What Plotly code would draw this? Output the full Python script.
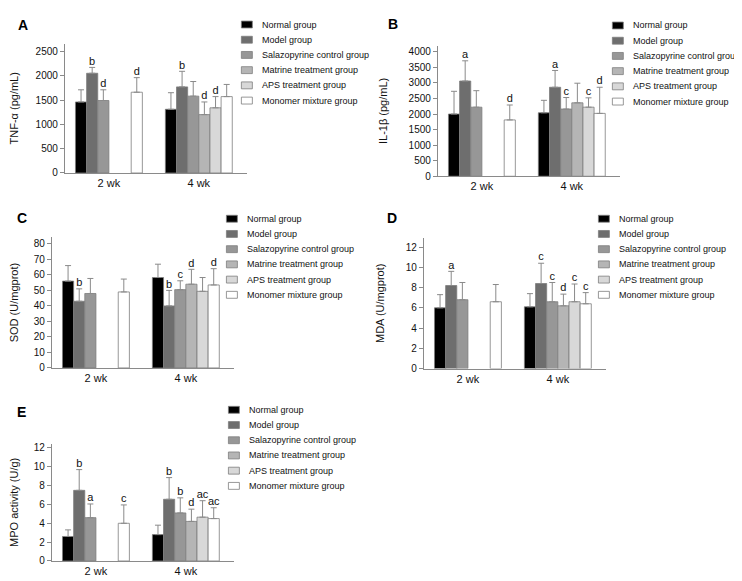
import plotly.graph_objects as go

W, H = 742, 581

categories = ["2 wk", "4 wk"]
groups = ["Normal group", "Model group", "Salazopyrine control group",
          "Matrine treatment group", "APS treatment group", "Monomer mixture group"]
group_colors = ["#000000", "#6e6e6e", "#979797", "#b5b5b5", "#d8d8d8", "#ffffff"]

# Panel A: TNF-alpha (pg/mL)  rows = groups, cols = [2 wk, 4 wk]
tnf_mean = [[1460, 1310], [2050, 1770], [1490, 1580], [None, 1200], [None, 1340], [1660, 1570]]
tnf_sd = [[250, 340], [120, 320], [220, 300], [None, 260], [None, 230], [300, 250]]
tnf_sig = [["", ""], ["b", "b"], ["d", ""], ["", "d"], ["", "d"], ["d", ""]]

# Panel B: IL-1beta (pg/mL)
il1_mean = [[2000, 2040], [3060, 2860], [2220, 2160], [None, 2360], [None, 2220], [1810, 2020]]
il1_sd = [[730, 400], [650, 540], [530, 370], [None, 630], [None, 300], [480, 840]]
il1_sig = [["", ""], ["a", "a"], ["", "c"], ["", ""], ["", "c"], ["d", "d"]]

# Panel C: SOD (U/mgprot)
sod_mean = [[56, 58.3], [43, 40], [48, 50.5], [None, 54], [None, 49.4], [49, 53.5]]
sod_sd = [[10, 8.6], [8, 10], [9.7, 5.7], [None, 9.6], [None, 8.9], [8.3, 10.5]]
sod_sig = [["", ""], ["b", "b"], ["", "c"], ["", "d"], ["", ""], ["", "d"]]

# Panel D: MDA (U/mgprot)
mda_mean = [[6.0, 6.1], [8.2, 8.4], [6.8, 6.6], [None, 6.2], [None, 6.6], [6.6, 6.4]]
mda_sd = [[1.3, 1.3], [1.4, 2.0], [1.7, 1.9], [None, 1.15], [None, 1.75], [1.7, 1.1]]
mda_sig = [["", ""], ["a", "c"], ["", "c"], ["", "d"], ["", "c"], ["", "c"]]

# Panel E: MPO activity (U/g)
mpo_mean = [[2.6, 2.8], [7.5, 6.55], [4.6, 5.1], [None, 4.2], [None, 4.65], [4.0, 4.5]]
mpo_sd = [[0.7, 1.0], [2.2, 2.3], [1.45, 1.6], [None, 1.3], [None, 1.75], [1.95, 1.15]]
mpo_sig = [["", ""], ["b", "b"], ["a", "b"], ["", "d"], ["", "ac"], ["c", "ac"]]

FONT = "Liberation Sans, Arial, sans-serif"
GRAY = "#8a8a8a"
TXT = "#111111"

# layout of panels in pixels: plot-area box (x0, x1, ytop, ybottom), legend anchor
panels = [
    dict(label="A", title="TNF-α (pg/mL)", mean=tnf_mean, sd=tnf_sd, sig=tnf_sig,
         yr=[0, 2660], dt=500, box=(55, 238, 35, 166), lab=(6, 16), leg=(232, 15.7)),
    dict(label="B", title="IL-1β (pg/mL)", mean=il1_mean, sd=il1_sd, sig=il1_sig,
         yr=[0, 4200], dt=500, box=(429, 612, 37, 169.3), lab=(377, 15), leg=(604, 16.7)),
    dict(label="C", title="SOD (U/mgprot)", mean=sod_mean, sd=sod_sd, sig=sod_sig,
         yr=[0, 84.3], dt=10, box=(42, 225, 231, 363.3), lab=(5, 212), leg=(217, 212.3)),
    dict(label="D", title="MDA (U/mgprot)", mean=mda_mean, sd=mda_sd, sig=mda_sig,
         yr=[0, 12.9], dt=2, box=(415, 598, 231.7, 364), lab=(376, 212), leg=(590, 212.3)),
    dict(label="E", title="MPO activity (U/g)", mean=mpo_mean, sd=mpo_sd, sig=mpo_sig,
         yr=[0, 12.45], dt=2, box=(42, 225, 440, 558.7), lab=(5, 408), leg=(219, 405.7)),
]

fig = go.Figure()
layout = dict(
    width=W, height=H, margin=dict(l=0, r=0, t=0, b=0),
    paper_bgcolor="white", plot_bgcolor="white",
    barmode="group", bargap=0.256, bargroupgap=0,
    scattermode="group", scattergap=0.256,
    showlegend=False, font=dict(family=FONT, size=10, color=TXT),
)
annotations = []
shapes = []

for p_i, p in enumerate(panels):
    sfx = "" if p_i == 0 else str(p_i + 1)
    xa, ya = "x" + sfx, "y" + sfx
    x0, x1, yt, yb = p["box"]
    for g_i, g in enumerate(groups):
        means = p["mean"][g_i]
        sds = p["sd"][g_i]
        fig.add_trace(go.Bar(
            x=categories, y=means, name=g, xaxis=xa, yaxis=ya,
            offsetgroup=str(g_i),
            marker=dict(color=group_colors[g_i], line=dict(color="#7d7d7d", width=0.8)),
            error_y=dict(type="data", array=sds, arrayminus=[0, 0], symmetric=False,
                         color=GRAY, thickness=1, width=3),
            hoverinfo="skip",
        ))
        tops = [None if m is None else m + s for m, s in zip(means, sds)]
        fig.add_trace(go.Scatter(
            x=categories, y=tops, mode="text", text=p["sig"][g_i],
            textposition="top center", offsetgroup=str(g_i),
            textfont=dict(family=FONT, size=11, color=TXT),
            xaxis=xa, yaxis=ya, cliponaxis=False, hoverinfo="skip",
        ))
    layout["xaxis" + sfx] = dict(
        domain=[x0 / W, x1 / W], anchor=ya, type="category", range=[-0.49, 1.54],
        showline=True, linecolor=GRAY, linewidth=1, ticks="", showgrid=False,
        zeroline=False, tickfont=dict(size=11, family=FONT, color=TXT),
    )
    layout["yaxis" + sfx] = dict(
        domain=[1 - yb / H, 1 - yt / H], anchor=xa, range=p["yr"], dtick=p["dt"],
        showline=True, linecolor=GRAY, linewidth=1, ticks="outside", ticklen=4,
        tickcolor=GRAY, showgrid=False, zeroline=False,
        tickfont=dict(size=10, family=FONT, color=TXT),
        title=dict(text=p["title"], font=dict(size=11, family=FONT, color=TXT),
                   standoff=18),
    )
    # panel letter
    lx, ly = p["lab"]
    annotations.append(dict(
        text="<b>%s</b>" % p["label"], x=lx / W, y=1 - ly / H, xref="paper", yref="paper",
        xanchor="left", yanchor="middle", showarrow=False,
        font=dict(size=14, family=FONT, color="#000000"),
    ))
    # manual legend
    sx, sy = p["leg"]
    for g_i, g in enumerate(groups):
        cy = sy + g_i * 15.4
        shapes.append(dict(
            type="rect", xref="paper", yref="paper",
            x0=sx / W, x1=(sx + 11) / W, y0=1 - (cy + 3.5) / H, y1=1 - (cy - 3.5) / H,
            fillcolor=group_colors[g_i], line=dict(color="#7d7d7d", width=0.8),
        ))
        annotations.append(dict(
            text=g, x=(sx + 19) / W, y=1 - cy / H, xref="paper", yref="paper",
            xanchor="left", yanchor="middle", showarrow=False,
            font=dict(size=9, family=FONT, color=TXT),
        ))

layout["annotations"] = annotations
layout["shapes"] = shapes
fig.update_layout(**layout)
fig.write_html("out.html")
